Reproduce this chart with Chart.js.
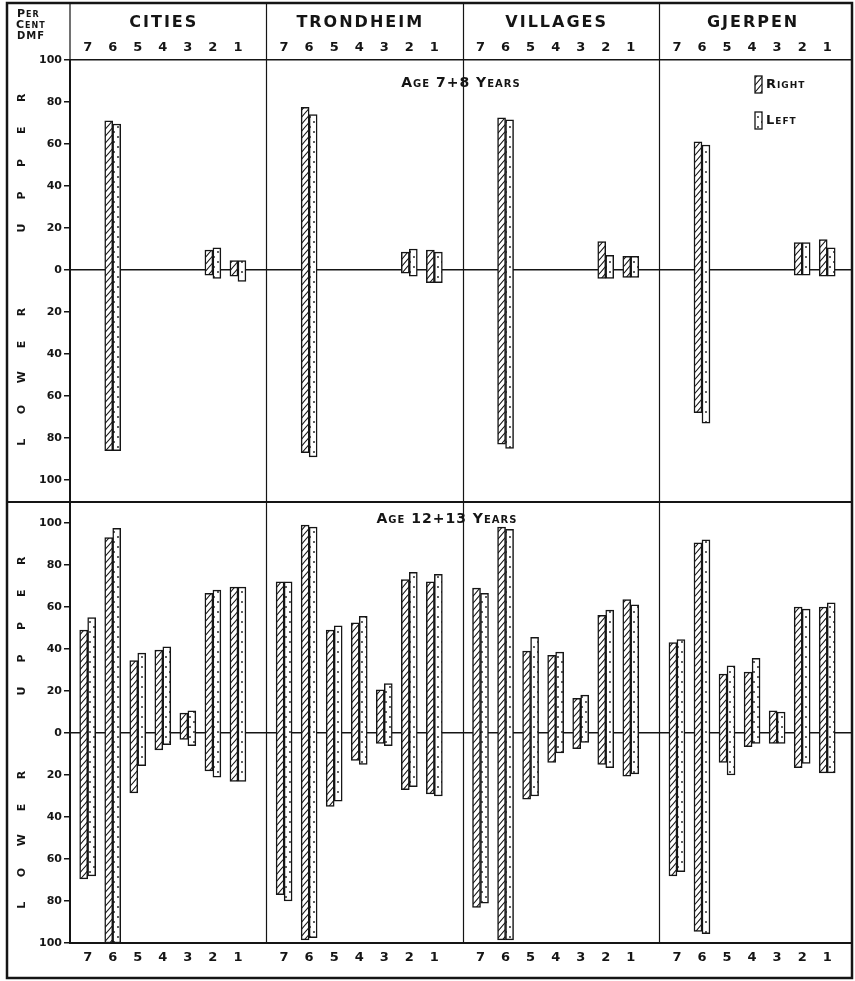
<!DOCTYPE html>
<html>
<head>
<meta charset="utf-8">
<title>Per cent DMF by tooth</title>
<script src="https://cdn.jsdelivr.net/npm/chart.js@4.4.1/dist/chart.umd.min.js"></script>
<style>
  html, body { margin: 0; padding: 0; background: #fff; }
  #chart { display: block; }
</style>
</head>
<body>
<canvas id="chart" width="855" height="981"></canvas>
<script>
'use strict';

// categories
let groups = ['CITIES', 'TRONDHEIM', 'VILLAGES', 'GJERPEN'];
let teeth = ['7', '6', '5', '4', '3', '2', '1'];
let yTicks = [100, 80, 60, 40, 20, 0, -20, -40, -60, -80, -100];

// age 7+8 - per cent DMF, teeth 7..1 for cities, trondheim, villages, gjerpen
let upperRight78 = [
  null, 71, null, null, null, 9.5, 4.5,
  null, 77.5, null, null, null, 8.5, 9.5,
  null, 72.5, null, null, null, 13.5, 6.5,
  null, 61, null, null, null, 13, 14.5
];
let lowerRight78 = [
  null, 86, null, null, null, 2.5, 3,
  null, 87, null, null, null, 1.5, 6,
  null, 83, null, null, null, 4, 3.5,
  null, 68, null, null, null, 2.5, 3
];
let upperLeft78 = [
  null, 69.5, null, null, null, 10.5, 4.5,
  null, 74, null, null, null, 10, 8.5,
  null, 71.5, null, null, null, 7, 6.5,
  null, 59.5, null, null, null, 13, 10.5
];
let lowerLeft78 = [
  null, 86, null, null, null, 4, 5.5,
  null, 89, null, null, null, 3, 6,
  null, 85, null, null, null, 4, 3.5,
  null, 73, null, null, null, 2.5, 3
];

// age 12+13
let upperRight1213 = [
  49, 93, 34.5, 39.5, 9.5, 66.5, 69.5,
  72, 99, 49, 52.5, 20.5, 73, 72,
  69, 98, 39, 37, 16.5, 56, 63.5,
  43, 90.5, 28, 29, 10.5, 60, 60
];
let lowerRight1213 = [
  69.5, 100, 28.5, 8, 3, 18, 23,
  77, 98.5, 35, 13, 5, 27, 29,
  83, 98.5, 31.5, 14, 7.5, 15, 20.5,
  68, 94.5, 14, 6.5, 5, 16.5, 19
];
let upperLeft1213 = [
  55, 97.5, 38, 41, 10.5, 68, 69.5,
  72, 98, 51, 55.5, 23.5, 76.5, 75.5,
  66.5, 97, 45.5, 38.5, 18, 58.5, 61,
  44.5, 92, 32, 35.5, 10, 59, 62
];
let lowerLeft1213 = [
  68, 100, 15.5, 5.5, 6, 21, 23,
  80, 97.5, 32.5, 15, 6, 25.5, 30,
  81, 98.5, 30, 9.5, 4.5, 16.5, 19.5,
  66, 95.5, 20, 5, 5, 14.5, 19
];

const INK = '#151515';
const FONT = '"DejaVu Sans", sans-serif';
// x units: every group is 8 units wide, teeth spaced a little over one unit
const GROUP_SPAN = 8;
const FIRST_TOOTH = 0.72;
const TOOTH_STEP = 1.02;
const X_MAX = 31.85;
const FRAME = { left: 7, top: 3, bottom: 978 };

function toothX(i) {
  return Math.floor(i / teeth.length) * GROUP_SPAN + FIRST_TOOTH + (i % teeth.length) * TOOTH_STEP;
}

let tickPositions = [];
for (let i = 0; i < groups.length * teeth.length; i++) {
  tickPositions.push(toothX(i));
}

// floating bars from -lower to +upper
function floating(upper, lower) {
  let out = [];
  for (let i = 0; i < upper.length; i++) {
    out.push({ x: toothX(i), y: upper[i] === null ? null : [-lower[i], upper[i]] });
  }
  return out;
}

// fill patterns - right side hatched, left side dotted
function makeHatch() {
  let c = document.createElement('canvas');
  c.width = 6; c.height = 7;
  let g = c.getContext('2d');
  g.fillStyle = '#fff';
  g.fillRect(0, 0, 6, 7);
  g.strokeStyle = INK;
  g.lineWidth = 1.1;
  g.beginPath();
  for (let dx = -6; dx <= 6; dx += 6) {
    g.moveTo(dx - 1, 7 + 7 / 6);
    g.lineTo(dx + 7, -7 / 6);
  }
  g.stroke();
  return g.createPattern(c, 'repeat');
}

function makeDots() {
  let c = document.createElement('canvas');
  c.width = 8; c.height = 10;
  let g = c.getContext('2d');
  g.fillStyle = '#fff';
  g.fillRect(0, 0, 8, 10);
  g.fillStyle = INK;
  g.beginPath();
  g.arc(2, 2, 0.9, 0, Math.PI * 2);
  g.arc(6, 7, 0.9, 0, Math.PI * 2);
  g.fill();
  return g.createPattern(c, 'repeat');
}

let hatch = makeHatch();
let dots = makeDots();

function text(ctx, str, x, y, font, align, spacing) {
  ctx.save();
  ctx.font = font;
  ctx.textAlign = align || 'center';
  ctx.textBaseline = 'middle';
  ctx.fillStyle = INK;
  if ('letterSpacing' in ctx) {
    ctx.letterSpacing = (spacing || 0) + 'px';
  }
  ctx.fillText(str, x, y);
  ctx.restore();
}

function verticalWord(ctx, word, scale, from, step, x) {
  // letters read upward, each one turned
  let letters = word.split('');
  for (let i = 0; i < letters.length; i++) {
    let y = scale.getPixelForValue(from + step * i);
    ctx.save();
    ctx.translate(x, y);
    ctx.rotate(-Math.PI / 2);
    text(ctx, letters[i], 0, 0, 'bold 11px ' + FONT);
    ctx.restore();
  }
}

let inkPlugin = {
  id: 'ink',
  beforeDatasetsDraw(chart) {
    let ctx = chart.ctx;
    let area = chart.chartArea;
    let xs = chart.scales.x;
    ctx.save();
    ctx.strokeStyle = INK;
    ctx.lineWidth = 1.2;
    ctx.beginPath();
    for (let g = 1; g < groups.length; g++) {
      let px = Math.round(xs.getPixelForValue(g * GROUP_SPAN)) + 0.5;
      ctx.moveTo(px, FRAME.top);
      ctx.lineTo(px, area.bottom);
    }
    ctx.moveTo(area.left, FRAME.top);
    ctx.lineTo(area.left, area.top);
    ctx.stroke();
    ctx.restore();
  },
  afterDraw(chart) {
    let ctx = chart.ctx;
    let area = chart.chartArea;
    let xs = chart.scales.x;
    let up = chart.scales.yUpper;
    let low = chart.scales.yLower;

    ctx.save();
    ctx.strokeStyle = INK;
    // outer frame
    ctx.lineWidth = 2.5;
    ctx.strokeRect(FRAME.left, FRAME.top, area.right - FRAME.left, FRAME.bottom - FRAME.top);
    // line between the two age panels
    ctx.lineWidth = 2;
    ctx.beginPath();
    ctx.moveTo(FRAME.left, Math.round(up.bottom));
    ctx.lineTo(area.right, Math.round(up.bottom));
    ctx.stroke();
    ctx.restore();

    // header box
    let sc = 'small-caps bold 11px ' + FONT;
    text(ctx, 'Per', 17, 14, sc, 'left', 1);
    text(ctx, 'Cent', 16, 25, sc, 'left', 1);
    text(ctx, 'DMF', 17, 36, 'bold 10px ' + FONT, 'left', 1);

    // group names over the middle tooth
    for (let g = 0; g < groups.length; g++) {
      let cx = (xs.getPixelForValue(toothX(g * 7)) + xs.getPixelForValue(toothX(g * 7 + 6))) / 2;
      text(ctx, groups[g], cx + 1, 23, 'bold 16px ' + FONT, 'center', 2);
    }

    // panel titles
    let mid = (area.left + area.right) / 2;
    text(ctx, 'Age 7+8 Years', mid, up.top + 23, 'small-caps bold 14px ' + FONT, 'center', 1);
    text(ctx, 'Age 12+13 Years', mid - 14, low.top + 17, 'small-caps bold 14px ' + FONT, 'center', 1);

    // upper / lower side words
    verticalWord(ctx, 'UPPER', up, 20, 15.5, 22);
    verticalWord(ctx, 'LOWER', up, -82, 15.5, 22);
    verticalWord(ctx, 'UPPER', low, 20, 15.5, 22);
    verticalWord(ctx, 'LOWER', low, -82, 15.5, 22);

    // legend
    let items = [chart.data.datasets[0], chart.data.datasets[1]];
    let lx = area.right - 97;
    let ly = area.top + 16;
    for (let i = 0; i < items.length; i++) {
      let top = ly + i * 36;
      ctx.save();
      ctx.fillStyle = items[i].backgroundColor;
      ctx.fillRect(lx, top, 7, 17);
      ctx.strokeStyle = INK;
      ctx.lineWidth = 1.3;
      ctx.strokeRect(lx, top, 7, 17);
      ctx.restore();
      text(ctx, items[i].label, lx + 11, top + 9, 'small-caps bold 13px ' + FONT, 'left', 1);
    }
  }
};

function yAxis(min, max, weight) {
  return {
    type: 'linear',
    position: 'left',
    stack: 'panels',
    stackWeight: weight,
    stacked: false,
    min: min,
    max: max,
    afterBuildTicks: s => { s.ticks = yTicks.map(v => ({ value: v })); },
    afterFit: s => { s.width = 70; },
    grid: {
      drawOnChartArea: true,
      drawTicks: true,
      tickLength: 6,
      tickColor: INK,
      lineWidth: 1.5,
      color: c => (c.tick && c.tick.value === 0) ? INK : 'rgba(0,0,0,0)'
    },
    border: { display: true, color: INK, width: 2 },
    ticks: {
      padding: 2,
      color: INK,
      font: { family: FONT, size: 11, weight: 'bold' },
      callback: v => String(Math.abs(v))
    }
  };
}

function xAxis(position, height, pad, borderWidth) {
  return {
    type: 'linear',
    position: position,
    min: 0,
    max: X_MAX,
    offset: false,
    afterBuildTicks: s => { s.ticks = tickPositions.map(v => ({ value: v })); },
    afterFit: s => { s.height = height; },
    grid: { display: true, drawOnChartArea: false, drawTicks: false, offset: false },
    border: { display: true, color: INK, width: borderWidth },
    ticks: {
      autoSkip: false,
      maxRotation: 0,
      padding: pad,
      color: INK,
      font: { family: FONT, size: 13, weight: 'bold' },
      callback: (v, i) => teeth[i % teeth.length]
    }
  };
}

let barStyle = { borderColor: INK, borderWidth: 1.5, borderSkipped: false, barThickness: 8 };

let chartData = {
  type: 'bar',
  data: {
    datasets: [
      Object.assign({ label: 'Right', stack: 'right', xAxisID: 'x', yAxisID: 'yUpper', backgroundColor: hatch, data: floating(upperRight78, lowerRight78) }, barStyle),
      Object.assign({ label: 'Left', stack: 'left', xAxisID: 'x', yAxisID: 'yUpper', backgroundColor: dots, data: floating(upperLeft78, lowerLeft78) }, barStyle),
      Object.assign({ label: 'Right', stack: 'right', xAxisID: 'x', yAxisID: 'yLower', backgroundColor: hatch, data: floating(upperRight1213, lowerRight1213) }, barStyle),
      Object.assign({ label: 'Left', stack: 'left', xAxisID: 'x', yAxisID: 'yLower', backgroundColor: dots, data: floating(upperLeft1213, lowerLeft1213) }, barStyle)
    ]
  },
  options: {
    responsive: false,
    animation: false,
    devicePixelRatio: 1,
    events: [],
    layout: { padding: { left: 0, top: 0, right: 3, bottom: 0 } },
    plugins: {
      legend: { display: false },
      tooltip: { enabled: false }
    },
    scales: {
      x: xAxis('bottom', 38, 7, 2),
      xTop: xAxis('top', 60, 5, 1.5),
      yLower: yAxis(-100, 110, 441),
      yUpper: yAxis(-110.5, 100, 442)
    }
  },
  plugins: [inkPlugin]
};

const myChart = new Chart(document.getElementById('chart'), chartData); //eslint-disable-line
</script>
</body>
</html>
